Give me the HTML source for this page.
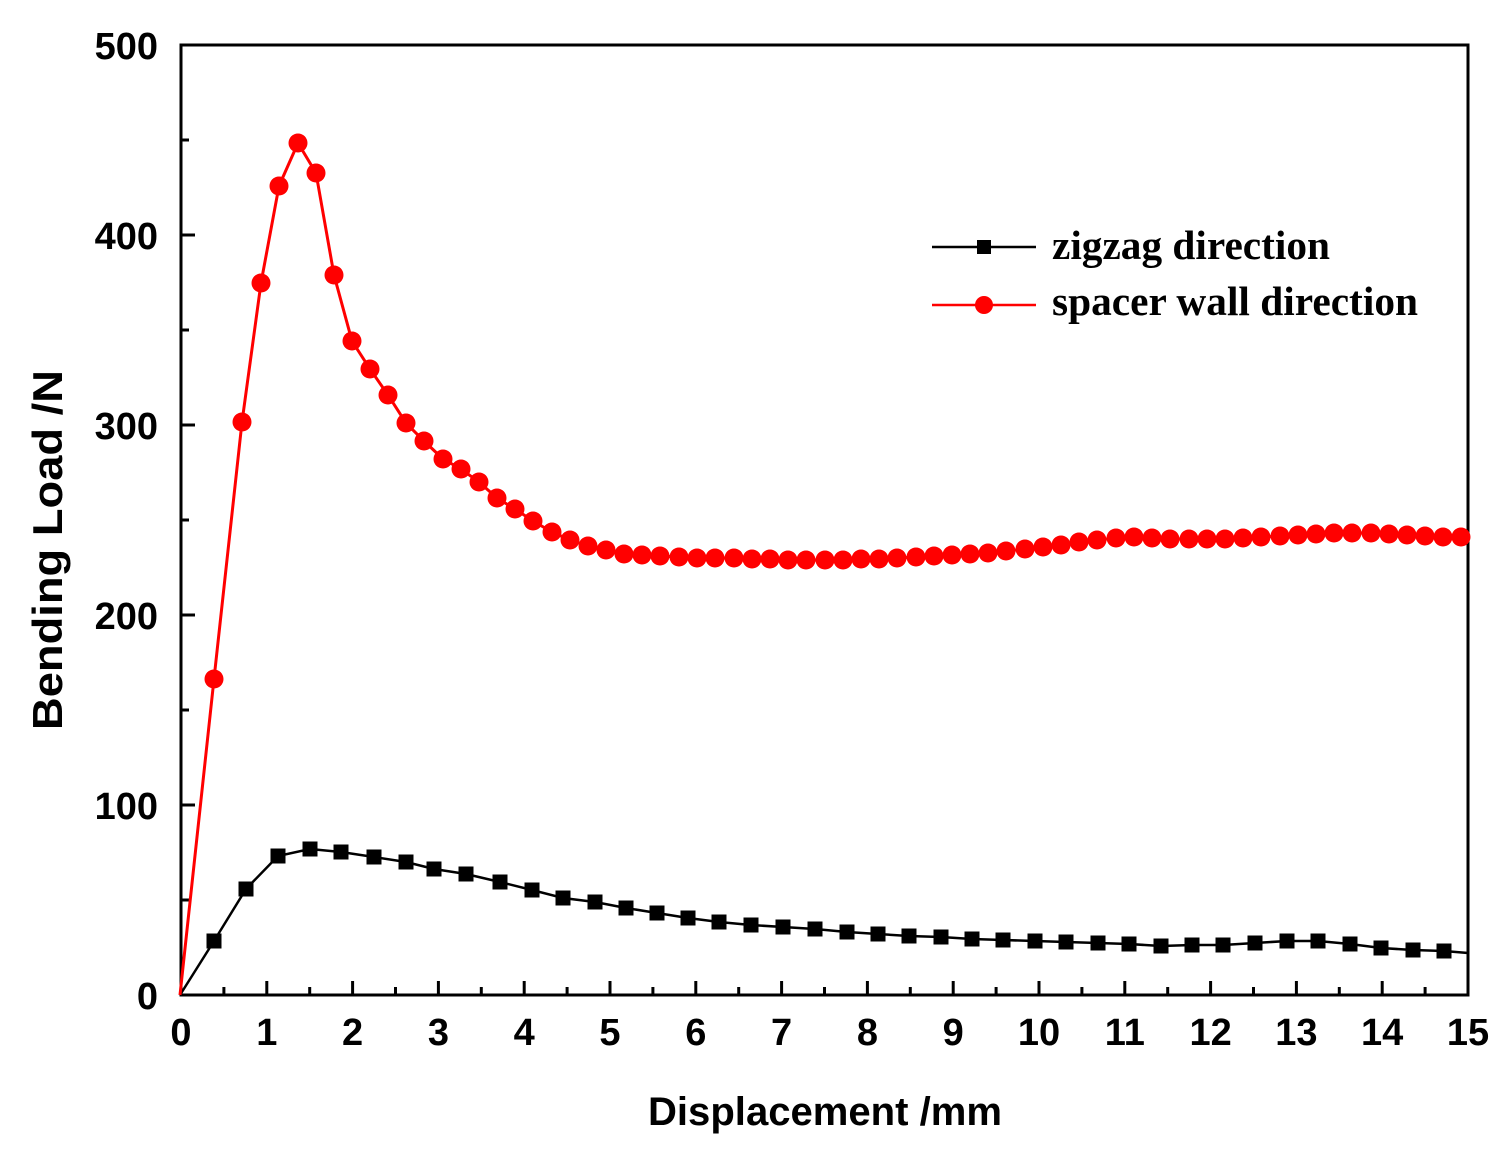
<!DOCTYPE html>
<html><head><meta charset="utf-8"><style>
html,body{margin:0;padding:0;background:#fff;}
svg{display:block;}
.t{font-family:"Liberation Sans",Arial,sans-serif;font-weight:bold;font-size:38px;fill:#000;}
.l{font-family:"Liberation Serif","Times New Roman",serif;font-weight:bold;font-size:41px;fill:#000;}
</style></head><body>
<svg id="s" width="1504" height="1151" viewBox="0 0 1504 1151" xmlns="http://www.w3.org/2000/svg">
<rect width="1504" height="1151" fill="#fff"/>
<g id="ticks" stroke="#000"></g>
<path d="M181,995 V45 H1468 V995 Z" fill="none" stroke="#000" stroke-width="3"/>
<g id="lbl"></g>
<g id="ser"></g>
<line x1="932" y1="247" x2="1036" y2="247" stroke="#000" stroke-width="2.5"/>
<rect x="977" y="240" width="14" height="14" fill="#000"/>
<line x1="932" y1="305" x2="1036" y2="305" stroke="#f00" stroke-width="2.5"/>
<circle cx="984" cy="305" r="9" fill="#f00"/>
<text class="l" x="1052" y="259" textLength="278" lengthAdjust="spacingAndGlyphs">zigzag direction</text>
<text class="l" x="1052" y="315" textLength="366" lengthAdjust="spacingAndGlyphs">spacer wall direction</text>
<text class="t" x="825" y="1125" text-anchor="middle" style="font-size:40px" textLength="354" lengthAdjust="spacingAndGlyphs">Displacement /mm</text>
<text class="t" transform="translate(62,550) rotate(-90)" text-anchor="middle" style="font-size:42px" textLength="360" lengthAdjust="spacingAndGlyphs">Bending Load /N</text>
</svg>
<script>
var NS="http://www.w3.org/2000/svg";
function el(p,n,a,txt){var e=document.createElementNS(NS,n);for(var k in a)e.setAttribute(k,a[k]);if(txt!=null)e.textContent=txt;p.appendChild(e);return e;}
var tk=document.getElementById('ticks'),lb=document.getElementById('lbl'),sr=document.getElementById('ser');
var x0=181,xs=(1468-181)/15,y0=995,ys=(995-45)/500;
for(var i=0;i<=30;i++){var x=x0+i*xs/2;var L=i%2?8:14;el(tk,'line',{x1:x,y1:y0,x2:x,y2:y0-L,'stroke-width':3});
 if(i%2==0)el(lb,'text',{x:x,y:1045,'class':'t','text-anchor':'middle'},i/2);}
for(var j=0;j<=10;j++){var y=y0-j*50*ys;var L=j%2?8:14;el(tk,'line',{x1:x0,y1:y,x2:x0+L,y2:y,'stroke-width':3});
 if(j%2==0)el(lb,'text',{x:158,y:y+14,'class':'t','text-anchor':'end'},j*50);}
var red=[[180,995],[214,679],[242,422],[261,283],[279,186],[298,143],[316,173],[334,275],[352,341],[370,369],[388,395],[406,423],[424,441],[443,459],[461,469],[479,482],[497,498],[515,509],[533,521],[552,532],[570,540],[588,546],[606,550],[624,554],[642,555],[660,556],[679,557],[697,558],[715,558],[734,558],[752,559],[770,559],[788,560],[806,560],[825,560],[843,560],[861,559],[879,559],[897,558],[916,557],[934,556],[952,555],[970,554],[988,553],[1006,551],[1025,549],[1043,547],[1061,545],[1079,542],[1097,540],[1116,538],[1134,537],[1152,538],[1170,539],[1189,539],[1207,539],[1225,539],[1243,538],[1261,537],[1280,536],[1298,535],[1316,534],[1334,533],[1352,533],[1371,533],[1389,534],[1407,535],[1425,536],[1443,537],[1461,537],[1468,537]];
var blk=[[180,995],[214,941],[246,889],[278,856],[310,849],[341,852],[374,857],[406,862],[434,869],[466,874],[500,882],[532,890],[563,898],[595,902],[626,908],[657,913],[688,918],[719,922],[751,925],[783,927],[815,929],[847,932],[878,934],[909,936],[941,937],[972,939],[1003,940],[1035,941],[1066,942],[1098,943],[1129,944],[1161,946],[1192,945],[1223,945],[1255,943],[1287,941],[1318,941],[1350,944],[1381,948],[1413,950],[1444,951],[1468,953]];
function pts(a){return a.map(function(p){return p.join(',')}).join(' ');}
el(sr,'polyline',{points:pts(blk),fill:'none',stroke:'#000','stroke-width':2.5});
blk.forEach(function(p,i){if(i>0&&i<blk.length-1)el(sr,'rect',{x:p[0]-7.5,y:p[1]-7.5,width:15,height:15,fill:'#000'});});
el(sr,'polyline',{points:pts(red),fill:'none',stroke:'#f00','stroke-width':3});
red.forEach(function(p,i){if(i>0&&i<red.length-1)el(sr,'circle',{cx:p[0],cy:p[1],r:9.5,fill:'#f00'});});
</script>
</body></html>
